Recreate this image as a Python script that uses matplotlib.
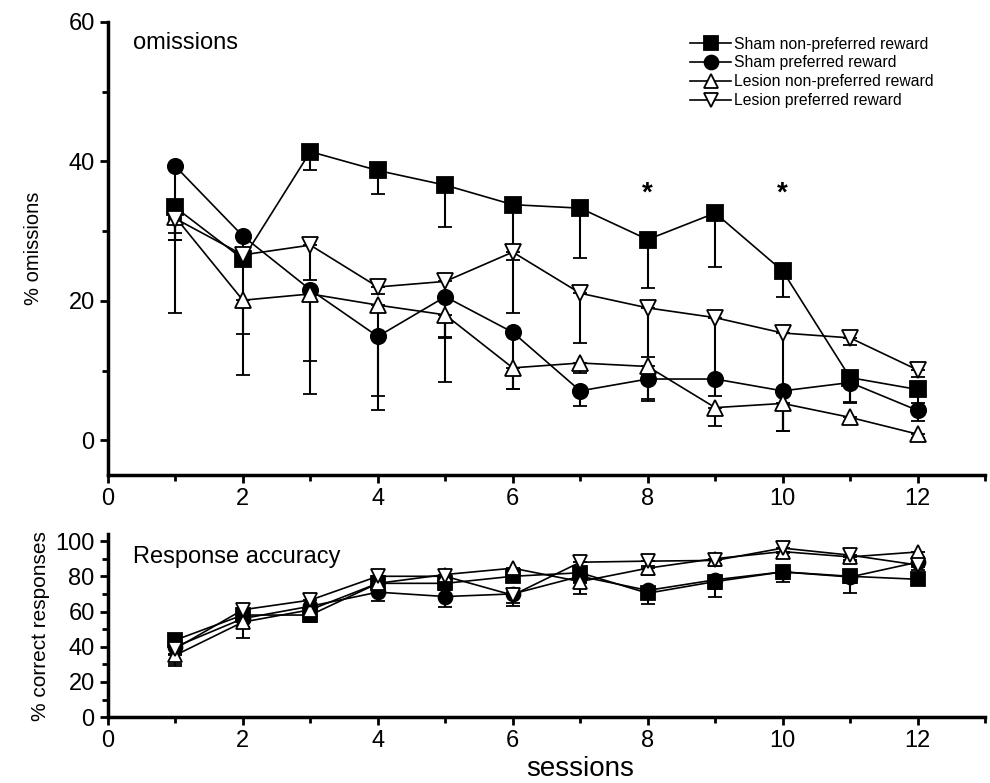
import matplotlib
matplotlib.use("Agg")
import matplotlib.pyplot as plt
from matplotlib.lines import Line2D
from matplotlib.ticker import MultipleLocator

plt.rcParams['font.family'] = ['Liberation Sans', 'DejaVu Sans']

sessions = [1, 2, 3, 4, 5, 6, 7, 8, 9, 10, 11, 12]
labels = ["Sham non-preferred reward", "Sham preferred reward",
          "Lesion non-preferred reward", "Lesion preferred reward"]

# omissions (%), mean and lower error
om_sham_np = [33.4, 26.0, 41.4, 38.7, 36.6, 33.8, 33.3, 28.8, 32.6, 24.3, 9.0, 7.3]
om_sham_np_err = [4.7, 0.8, 2.7, 3.3, 6.0, 8.0, 7.2, 7.0, 7.7, 3.7, 3.5, 2.0]
om_sham_p = [39.3, 29.3, 21.6, 14.9, 20.6, 15.5, 7.1, 8.8, 8.8, 7.1, 8.3, 4.3]
om_sham_p_err = [21.0, 3.0, 15.0, 10.6, 12.2, 8.1, 2.1, 3.2, 2.4, 5.7, 2.9, 1.5]
om_les_np = [32.0, 20.1, 21.0, 19.4, 18.0, 10.4, 11.1, 10.6, 4.7, 5.3, 3.3, 0.9]
om_les_np_err = [3.3, 10.7, 9.6, 13.1, 3.3, 3.0, 1.5, 4.6, 2.7, 3.9, 1.0, 0.5]
om_les_p = [31.8, 26.6, 28.0, 22.0, 22.8, 27.0, 21.1, 19.0, 17.6, 15.4, 14.7, 10.1]
om_les_p_err = [2.0, 11.3, 5.0, 1.0, 8.0, 8.7, 7.1, 7.1, 8.8, 14.1, 1.0, 1.0]

# response accuracy (% correct), mean and lower error
acc_sham_np = [43.8, 58.0, 58.0, 76.0, 76.0, 80.0, 82.0, 70.4, 77.0, 82.5, 80.0, 78.3]
acc_sham_np_err = [4.0, 4.0, 4.0, 3.0, 4.0, 3.0, 5.0, 6.0, 4.0, 4.0, 4.0, 3.0]
acc_sham_p = [40.0, 56.0, 63.0, 71.0, 68.5, 70.0, 80.0, 72.0, 78.0, 82.5, 79.6, 88.0]
acc_sham_p_err = [4.0, 5.0, 5.0, 5.0, 6.0, 5.0, 4.0, 5.0, 10.0, 6.0, 9.0, 3.0]
acc_les_np = [35.2, 54.0, 61.0, 76.0, 81.0, 84.6, 77.0, 84.6, 90.0, 94.0, 91.0, 93.8]
acc_les_np_err = [5.0, 9.0, 6.0, 4.0, 4.0, 3.0, 7.0, 4.0, 3.0, 3.0, 3.0, 3.0]
acc_les_p = [39.0, 61.0, 66.5, 80.0, 80.0, 69.3, 88.0, 88.6, 89.0, 96.0, 92.0, 86.4]
acc_les_p_err = [10.0, 5.0, 5.0, 4.0, 3.0, 6.0, 3.0, 3.0, 3.0, 3.0, 3.0, 3.0]

star_sessions = [8, 10]
star_y = [35.4, 35.4]

styles = [dict(marker='s', mfc='black'), dict(marker='o', mfc='black'),
          dict(marker='^', mfc='white'), dict(marker='v', mfc='white')]

fig = plt.figure(figsize=(9.9, 7.83), dpi=100)
ax1 = fig.add_axes([0.109, 0.393, 0.886, 0.579])
ax2 = fig.add_axes([0.109, 0.084, 0.886, 0.234])


def draw(ax, series, ms):
    for (y, e), st in zip(series, styles):
        ax.errorbar(sessions, y, yerr=[e, [0] * len(e)], color='black', lw=1.2,
                    elinewidth=1.5, capsize=5, capthick=1.5, ms=ms, mec='black',
                    mew=1.3, **st)


def style(ax):
    for s in ['top', 'right']:
        ax.spines[s].set_visible(False)
    for s in ['left', 'bottom']:
        ax.spines[s].set_linewidth(2.5)
    ax.set_xlim(0, 13)
    ax.xaxis.set_major_locator(MultipleLocator(2))
    ax.xaxis.set_minor_locator(MultipleLocator(1))
    ax.tick_params(which='major', length=6, width=2, labelsize=17, direction='out')
    ax.tick_params(which='minor', length=4, width=2, direction='out')


draw(ax1, [(om_sham_np, om_sham_np_err), (om_sham_p, om_sham_p_err),
           (om_les_np, om_les_np_err), (om_les_p, om_les_p_err)], 11)
style(ax1)
ax1.set_ylim(-5, 60)
ax1.yaxis.set_major_locator(MultipleLocator(20))
ax1.yaxis.set_minor_locator(MultipleLocator(10))
ax1.set_ylabel("% omissions", fontsize=14.5, labelpad=18)
ax1.text(0.37, 57, "omissions", fontsize=17, va='center')
for xs, ys in zip(star_sessions, star_y):
    ax1.text(xs, ys, "*", fontsize=20, ha='center', va='center', fontweight='bold')

handles = [Line2D([], [], color='black', lw=1.2, ms=10, mec='black', mew=1.3, **st)
           for st in styles]
ax1.legend(handles, labels, loc='upper left', bbox_to_anchor=(0.655, 0.985),
           frameon=False, fontsize=11.3, handlelength=2.6, handletextpad=0.2,
           labelspacing=0.25, borderpad=0)

draw(ax2, [(acc_sham_np, acc_sham_np_err), (acc_sham_p, acc_sham_p_err),
           (acc_les_np, acc_les_np_err), (acc_les_p, acc_les_p_err)], 10)
style(ax2)
ax2.set_ylim(0, 104)
ax2.yaxis.set_major_locator(MultipleLocator(20))
ax2.yaxis.set_minor_locator(MultipleLocator(10))
ax2.set_ylabel("% correct responses", fontsize=15, labelpad=4)
ax2.text(0.37, 91, "Response accuracy", fontsize=17, va='center')
ax2.set_xlabel("sessions", fontsize=20)
ax2.xaxis.set_label_coords(0.538, -0.28)
ax2.xaxis.label.set_va('center')

fig.savefig("out.png", dpi=100)
